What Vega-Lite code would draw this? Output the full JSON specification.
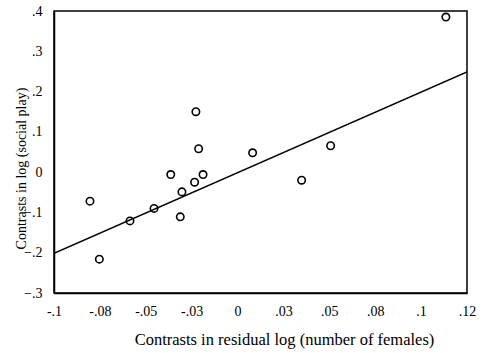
{
  "$schema": "https://vega.github.io/schema/vega-lite/v6.json",
  "autosize": "none",
  "width": 413,
  "height": 282,
  "padding": {"left": 54, "top": 11, "right": 16, "bottom": 60},
  "background": "white",
  "config": {
    "view": {"stroke": "black", "strokeWidth": 1.5},
    "font": "Liberation Serif",
    "axis": {
      "labelFont": "Liberation Serif",
      "titleFont": "Liberation Serif",
      "labelFontSize": 14,
      "titleFontSize": 15,
      "titleFontWeight": "normal",
      "labelColor": "black",
      "titleColor": "black",
      "grid": false,
      "ticks": false,
      "domainColor": "black",
      "domainWidth": 1.5
    }
  },
  "datasets": {
    "pts": [
      {"x": -0.0804, "y": -0.072},
      {"x": -0.0753, "y": -0.216},
      {"x": -0.0586, "y": -0.121},
      {"x": -0.0455, "y": -0.090},
      {"x": -0.0227, "y": 0.150},
      {"x": -0.0212, "y": 0.058},
      {"x": -0.0364, "y": -0.006},
      {"x": -0.0188, "y": -0.006},
      {"x": -0.0234, "y": -0.025},
      {"x": -0.0303, "y": -0.049},
      {"x": -0.0312, "y": -0.111},
      {"x": 0.0082, "y": 0.048},
      {"x": 0.0349, "y": -0.020},
      {"x": 0.0507, "y": 0.0655},
      {"x": 0.1135, "y": 0.385}
    ],
    "fit": [
      {"x": -0.1, "y": -0.2015},
      {"x": 0.125, "y": 0.249}
    ]
  },
  "layer": [
    {
      "data": {"name": "fit"},
      "mark": {"type": "line", "color": "black", "strokeWidth": 1.5, "clip": true},
      "encoding": {
        "x": {"field": "x", "type": "quantitative"},
        "y": {"field": "y", "type": "quantitative"}
      }
    },
    {
      "data": {"name": "pts"},
      "mark": {"type": "point", "shape": "circle", "filled": false, "color": "black", "strokeWidth": 1.6, "size": 55, "opacity": 1},
      "encoding": {
        "x": {
          "field": "x", "type": "quantitative",
          "scale": {"domain": [-0.1, 0.125], "nice": false, "zero": false},
          "axis": {
            "title": "Contrasts in residual log (number of females)",
            "values": [-0.1, -0.075, -0.05, -0.025, 0, 0.025, 0.05, 0.075, 0.1, 0.125],
            "labelExpr": "['-.1','-.08','-.05','-.03','0','.03','.05','.08','.1','.12'][round((datum.value+0.1)/0.025)]",
            "labelPadding": 11,
            "titlePadding": 13,
            "titleFontSize": 16.5,
            "titleX": 230,
            "labelFlush": false
          }
        },
        "y": {
          "field": "y", "type": "quantitative",
          "scale": {"domain": [-0.3, 0.4], "nice": false, "zero": false},
          "axis": {
            "title": "Contrasts in log (social play)",
            "values": [-0.3, -0.2, -0.1, 0, 0.1, 0.2, 0.3, 0.4],
            "labelExpr": "replace(format(datum.value, '.1~f'), '0.', '.')",
            "labelPadding": 12,
            "titleFontSize": 14,
            "titleX": -29,
            "titleY": 157,
            "titleBaseline": "alphabetic",
            "labelFlush": false
          }
        }
      }
    }
  ]
}
